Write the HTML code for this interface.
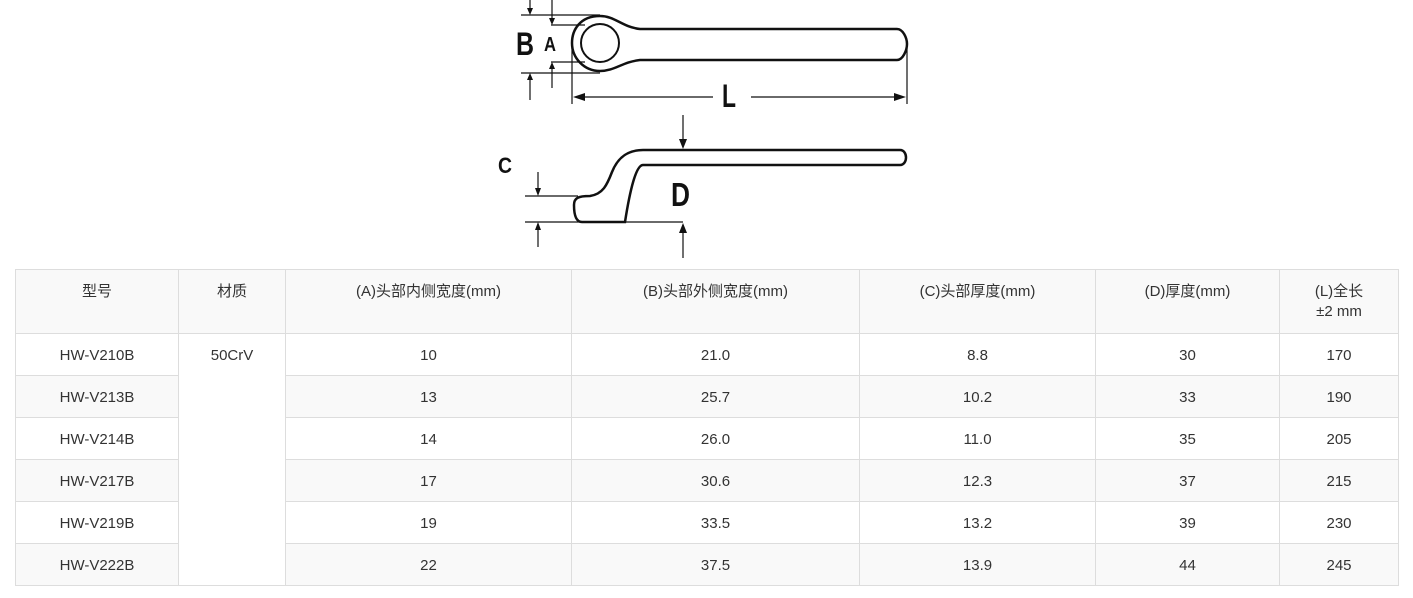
<!DOCTYPE html>
<html><head><meta charset="utf-8"><style>
body{margin:0;background:#fff;width:1413px;height:598px;overflow:hidden;font-family:"Liberation Sans","Noto Sans CJK SC",sans-serif;}
svg{position:absolute;left:0;top:0}
table{position:absolute;left:15px;top:269px;border-collapse:collapse;table-layout:fixed;width:1383px;font-size:15px;color:#333}
td{border:1px solid #ddd;text-align:center;vertical-align:top;padding:2px 0 0 0;height:39px;line-height:39px}
tr.h td{height:64px;line-height:20px;padding-top:12px;box-sizing:border-box;background:#f9f9f9}
tr.s td{background:#f9f9f9}
td.m{background:#fff!important}
</style></head><body>
<svg width="1413" height="268" viewBox="0 0 1413 268">
<g fill="none" stroke="#111" stroke-width="2.5">
<path d="M600,16 C580,16 572,30 572,43 C572,58 584,71 600,71 C615,71 622,62 640,60 L897,60 C903,60 907,50 907,44 C907,38 903,29 897,29 L640,29 C622,27 615,16 600,16 Z"/>
<circle cx="600" cy="43" r="19" stroke-width="2"/>
<path d="M643,150 L900,150 C908,150 908,165 900,165 L643,165 C636,165 630,190 625,222 L582,222 C575,222 574,212 574,205 C574,198 578,196 590,196 C603,194 607,185 612,172 C618,157 628,150 643,150 Z"/>
</g>
<g stroke="#111" stroke-width="1.2" fill="none">
<line x1="521" y1="15" x2="600" y2="15"/><line x1="551" y1="25" x2="585" y2="25"/>
<line x1="551" y1="62" x2="585" y2="62"/><line x1="521" y1="73" x2="600" y2="73"/>
<line x1="530" y1="0" x2="530" y2="12"/><line x1="530" y1="77" x2="530" y2="100"/>
<line x1="552" y1="0" x2="552" y2="22"/><line x1="552" y1="66" x2="552" y2="88"/>
<line x1="572" y1="40" x2="572" y2="104"/><line x1="907" y1="48" x2="907" y2="104"/>
<line x1="580" y1="97" x2="713" y2="97"/><line x1="751" y1="97" x2="898" y2="97"/>
<line x1="525" y1="196" x2="578" y2="196"/><line x1="525" y1="222" x2="683" y2="222"/>
<line x1="538" y1="172" x2="538" y2="193"/><line x1="538" y1="225" x2="538" y2="247"/>
<line x1="683" y1="115" x2="683" y2="146"/><line x1="683" y1="226" x2="683" y2="258"/>
</g>
<g fill="#111">
<path d="M530,15 l-3,-7 h6z"/><path d="M530,73 l-3,7 h6z"/>
<path d="M552,25 l-3,-7 h6z"/><path d="M552,62 l-3,7 h6z"/>
<path d="M573,97 l12,-4 v8z"/><path d="M906,97 l-12,-4 v8z"/>
<path d="M538,196 l-3,-8 h6z"/><path d="M538,222 l-3,8 h6z"/>
<path d="M683,149 l-4,-10 h8z"/><path d="M683,223 l-4,10 h8z"/>
</g>
<g font-family="Liberation Sans Narrow,Liberation Sans,sans-serif" font-weight="bold" fill="#111">
<text x="516" y="55" font-size="32" textLength="18" lengthAdjust="spacingAndGlyphs">B</text>
<text x="544" y="51" font-size="20" textLength="12" lengthAdjust="spacingAndGlyphs">A</text>
<text x="722" y="107" font-size="32" textLength="14" lengthAdjust="spacingAndGlyphs">L</text>
<text x="498" y="173" font-size="22" textLength="14" lengthAdjust="spacingAndGlyphs">C</text>
<text x="671" y="206" font-size="33" textLength="19" lengthAdjust="spacingAndGlyphs">D</text>
</g>
</svg>
<table>
<colgroup><col style="width:163px"><col style="width:107px"><col style="width:286px"><col style="width:288px"><col style="width:236px"><col style="width:184px"><col style="width:119px"></colgroup>
<tr class="h"><td>型号</td><td>材质</td><td>(A)头部内侧宽度(mm)</td><td>(B)头部外侧宽度(mm)</td><td>(C)头部厚度(mm)</td><td>(D)厚度(mm)</td><td>(L)全长<br>±2 mm</td></tr>
<tr><td>HW-V210B</td><td class="m" rowspan="6">50CrV</td><td>10</td><td>21.0</td><td>8.8</td><td>30</td><td>170</td></tr>
<tr class="s"><td>HW-V213B</td><td>13</td><td>25.7</td><td>10.2</td><td>33</td><td>190</td></tr>
<tr><td>HW-V214B</td><td>14</td><td>26.0</td><td>11.0</td><td>35</td><td>205</td></tr>
<tr class="s"><td>HW-V217B</td><td>17</td><td>30.6</td><td>12.3</td><td>37</td><td>215</td></tr>
<tr><td>HW-V219B</td><td>19</td><td>33.5</td><td>13.2</td><td>39</td><td>230</td></tr>
<tr class="s"><td>HW-V222B</td><td>22</td><td>37.5</td><td>13.9</td><td>44</td><td>245</td></tr>
</table>
</body></html>
